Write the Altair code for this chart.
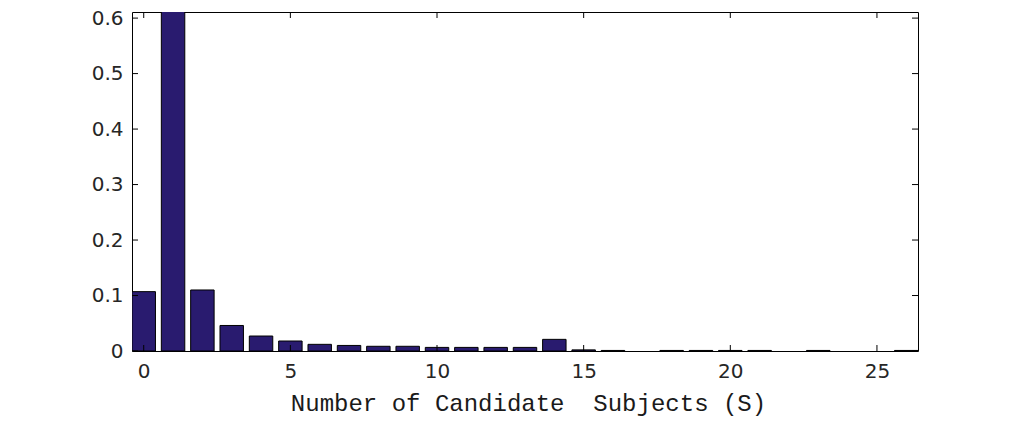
import altair as alt
import pandas as pd

# Data
S = list(range(27))
P = [0.107, 0.62, 0.110, 0.046, 0.027, 0.018, 0.012, 0.010, 0.0085, 0.0085,
     0.0065, 0.0065, 0.0065, 0.0065, 0.021, 0.002, 0.001, 0.0, 0.001, 0.001,
     0.001, 0.001, 0.0, 0.001, 0.0, 0.0, 0.001]
x_ticks = [0, 5, 10, 15, 20, 25]
y_ticks = [0, 0.1, 0.2, 0.3, 0.4, 0.5, 0.6]

W, H = 786, 339
X_DOM = [-0.4, 26.4]
Y_DOM = [0, 0.611]
BAR_HALF = 0.4
TICK = 6

bars_df = pd.DataFrame({"S": S, "P": P})
xt_df = pd.DataFrame({"t": x_ticks})
yt_df = pd.DataFrame({"t": y_ticks})

xscale = alt.Scale(domain=X_DOM, nice=False, zero=False)
yscale = alt.Scale(domain=Y_DOM, nice=False)

bars = alt.Chart(bars_df).transform_calculate(
    lo=f"datum.S - {BAR_HALF}", hi=f"datum.S + {BAR_HALF}"
).transform_filter("datum.P > 0").mark_bar(
    color="#291b6f", stroke="black", strokeWidth=1, clip=True
).encode(
    x=alt.X("lo:Q", scale=xscale,
            axis=alt.Axis(values=x_ticks, ticks=False, domain=False, grid=False,
                          labelFont="DejaVu Sans", labelFontSize=20,
                          labelColor="#262626", labelPadding=10,
                          title="Number of Candidate\u00a0 Subjects (S)",
                          titleFont="Liberation Mono", titleFontSize=24,
                          titleFontWeight="normal", titleColor="#1a1a1a",
                          titleBaseline="alphabetic", titleY=59,
                          titleX=W / 2 + 3)),
    x2="hi:Q",
    y=alt.Y("P:Q", scale=yscale,
            axis=alt.Axis(values=y_ticks, ticks=False, domain=False, grid=False,
                          format="~g", labelFont="DejaVu Sans", labelFontSize=20,
                          labelColor="#262626", labelPadding=9, title=None)),
    y2=alt.datum(0),
)

xb = alt.Chart(xt_df).mark_rule(color="black", strokeWidth=1).encode(
    x=alt.X("t:Q", scale=xscale), y=alt.value(H), y2=alt.value(H - TICK))
xtop = alt.Chart(xt_df).mark_rule(color="black", strokeWidth=1).encode(
    x=alt.X("t:Q", scale=xscale), y=alt.value(0), y2=alt.value(TICK))
yl = alt.Chart(yt_df).mark_rule(color="black", strokeWidth=1).encode(
    y=alt.Y("t:Q", scale=yscale), x=alt.value(0), x2=alt.value(TICK))
yr = alt.Chart(yt_df).mark_rule(color="black", strokeWidth=1).encode(
    y=alt.Y("t:Q", scale=yscale), x=alt.value(W), x2=alt.value(W - TICK))

chart = alt.layer(bars, xb, xtop, yl, yr).properties(
    width=W, height=H,
    autosize=alt.AutoSizeParams(type="none"),
    padding={"left": 124, "top": 4, "right": 90, "bottom": 70},
    background="white",
).configure_view(stroke="black", strokeWidth=1)

chart.save("out.html", embed_options={"renderer": "svg", "actions": False})
